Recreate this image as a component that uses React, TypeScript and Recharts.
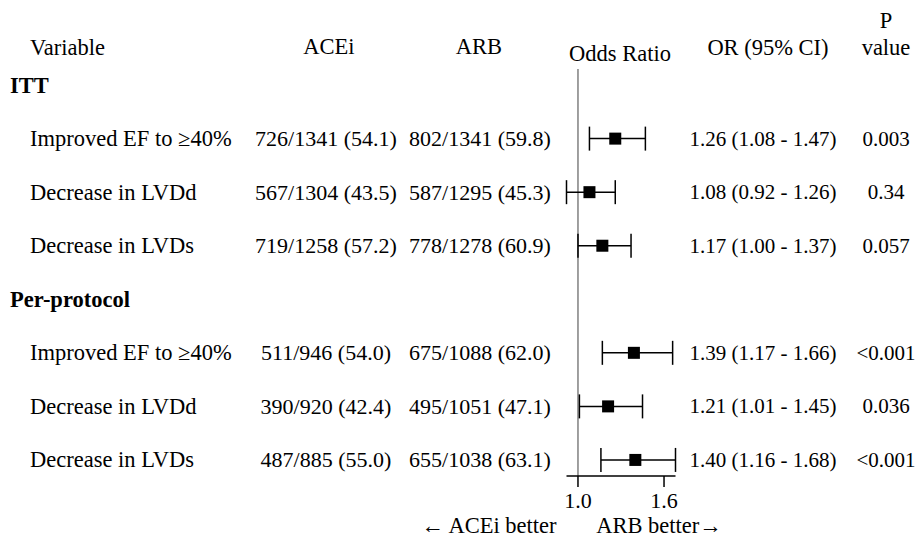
import React from 'react';
import {
  ScatterChart,
  Scatter,
  XAxis,
  YAxis,
  ErrorBar,
  ReferenceLine,
} from 'recharts';

// one entry per row, headers included (ITT / Per-protocol)
const rowLabels = [
  'ITT',
  'Improved EF to ≥40%',
  'Decrease in LVDd',
  'Decrease in LVDs',
  'Per-protocol',
  'Improved EF to ≥40%',
  'Decrease in LVDd',
  'Decrease in LVDs',
];
const headerRows = [0, 4];
const aceiText = ['', '726/1341 (54.1)', '567/1304 (43.5)', '719/1258 (57.2)', '', '511/946 (54.0)', '390/920 (42.4)', '487/885 (55.0)'];
const arbText = ['', '802/1341 (59.8)', '587/1295 (45.3)', '778/1278 (60.9)', '', '675/1088 (62.0)', '495/1051 (47.1)', '655/1038 (63.1)'];
const oddsRatio = [null, 1.26, 1.08, 1.17, null, 1.39, 1.21, 1.4];
const ciLow = [null, 1.08, 0.92, 1.0, null, 1.17, 1.01, 1.16];
const ciHigh = [null, 1.47, 1.26, 1.37, null, 1.66, 1.45, 1.68];
const pValues = ['', '0.003', '0.34', '0.057', '', '<0.001', '0.036', '<0.001'];
const xTicks = [1.0, 1.6];

const FONT = "'Liberation Serif', serif";
const labelStyle = { fontFamily: FONT, fontSize: 22.5 };
const countStyle = { fontFamily: FONT, fontSize: 22 };
const numStyle = { fontFamily: FONT, fontSize: 21 };

const points = oddsRatio
  .map((or, i) =>
    or == null
      ? null
      : { row: i, or, err: [or - (ciLow[i] as number), (ciHigh[i] as number) - or] }
  )
  .filter(Boolean) as { row: number; or: number; err: number[] }[];

const orText = (i: number) =>
  oddsRatio[i] == null
    ? ''
    : `${(oddsRatio[i] as number).toFixed(2)} (${(ciLow[i] as number).toFixed(2)} - ${(ciHigh[i] as number).toFixed(2)})`;

const RowTick = (props: any) => {
  const { y, payload } = props;
  const i = payload.value as number;
  const isHeader = headerRows.includes(i);
  const common = { y, fill: '#000', dominantBaseline: 'central' as const };
  return (
    <g>
      <text {...common} style={labelStyle} x={isHeader ? 10 : 30} textAnchor="start" fontWeight={isHeader ? 'bold' : 'normal'}>
        {rowLabels[i]}
      </text>
      <text {...common} style={countStyle} x={326} textAnchor="middle">{aceiText[i]}</text>
      <text {...common} style={countStyle} x={480} textAnchor="middle">{arbText[i]}</text>
      <text {...common} style={numStyle} x={763} textAnchor="middle">{orText(i)}</text>
      <text {...common} style={numStyle} x={886} textAnchor="middle">{pValues[i]}</text>
    </g>
  );
};

const Square = (props: any) => {
  const { cx, cy } = props;
  return <rect x={cx - 6} y={cy - 6} width={12} height={12} fill="#000" />;
};

export default function App() {
  const t = { style: labelStyle, fill: '#000', dominantBaseline: 'central' as const };
  return (
    <div style={{ position: 'absolute', left: 0, top: 0, width: 919, height: 539, background: '#fff', fontFamily: FONT }}>
      <ScatterChart
        width={919}
        height={539}
        margin={{ top: 69, right: 243.5, bottom: 33, left: 506.5 }}
      >
        <XAxis
          type="number"
          dataKey="or"
          domain={[0.92, 1.68]}
          ticks={xTicks}
          allowDataOverflow
          height={30}
          tickSize={11}
          tickMargin={5}
          tickFormatter={(v: number) => v.toFixed(1)}
          axisLine={{ stroke: '#000', strokeWidth: 1.5 }}
          tickLine={{ stroke: '#000', strokeWidth: 1.5 }}
          tick={{ style: countStyle, fill: '#000' }}
        />
        <YAxis
          type="number"
          dataKey="row"
          domain={[-0.3, 7.3]}
          ticks={rowLabels.map((_, i) => i)}
          reversed
          width={60}
          axisLine={false}
          tickLine={false}
          tick={<RowTick />}
          interval={0}
        />
        <ReferenceLine x={1} stroke="#808080" strokeWidth={1.5} />
        <Scatter data={points} shape={<Square />} isAnimationActive={false}>
          <ErrorBar dataKey="err" direction="x" width={12} stroke="#000" strokeWidth={1.5} />
        </Scatter>
      </ScatterChart>
      <svg width={919} height={539} style={{ position: 'absolute', left: 0, top: 0, pointerEvents: 'none' }}>
        <text {...t} x={30} y={47} textAnchor="start">Variable</text>
        <text {...t} x={329} y={46} textAnchor="middle">ACEi</text>
        <text {...t} x={479} y={46} textAnchor="middle">ARB</text>
        <text {...t} x={620} y={53} textAnchor="middle">Odds Ratio</text>
        <text {...t} x={768} y={47} textAnchor="middle">OR (95% CI)</text>
        <text {...t} x={886} y={20} textAnchor="middle">P</text>
        <text {...t} x={886} y={47} textAnchor="middle">value</text>
        <text {...t} x={489} y={525} textAnchor="middle">← ACEi better</text>
        <text {...t} x={659} y={525} textAnchor="middle">ARB better→</text>
      </svg>
    </div>
  );
}
